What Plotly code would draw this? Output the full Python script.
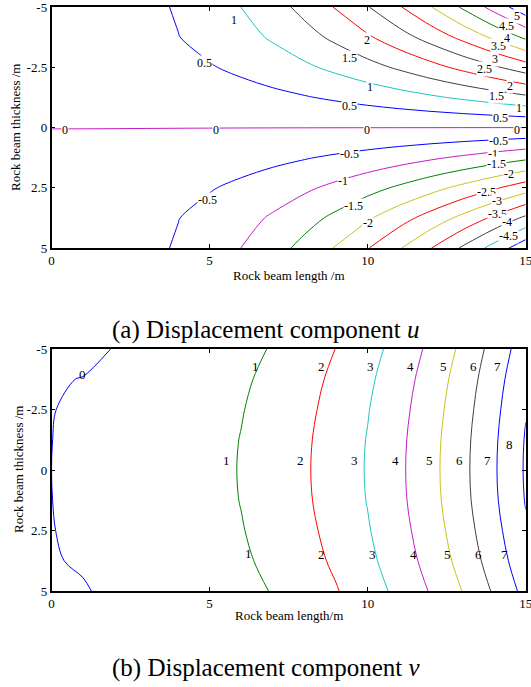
import plotly.graph_objects as go

# ---------------- data ----------------
beam_length = list(range(16))                       # x, m
beam_thick = [-5, -3.75, -2.5, -1.25, 0, 1.25, 2.5, 3.75, 5]   # y, m

# displacement u on the grid (rows follow beam_thick)
u_row_m5 = [0.175, 0.198, 0.267, 0.382, 0.543, 0.750, 1.003, 1.302, 1.647, 2.038, 2.475, 2.958, 3.487, 4.062, 4.683, 5.350]
u_row_m375 = [0.213, 0.230, 0.282, 0.368, 0.489, 0.644, 0.834, 1.058, 1.317, 1.610, 1.938, 2.300, 2.697, 3.128, 3.594, 4.094]
u_row_m25 = [0.181, 0.193, 0.227, 0.285, 0.365, 0.469, 0.595, 0.745, 0.917, 1.113, 1.331, 1.573, 1.837, 2.125, 2.435, 2.769]
u_row_m125 = [0.102, 0.108, 0.125, 0.154, 0.194, 0.246, 0.309, 0.384, 0.470, 0.568, 0.677, 0.798, 0.930, 1.074, 1.229, 1.396]
u_row_0 = [0.005, 0.005, 0.005, 0.005, 0.005, 0.005, 0.005, 0.005, 0.005, 0.005, 0.005, 0.005, 0.005, 0.005, 0.005, 0.005]
u_row_p125 = [-0.102, -0.108, -0.125, -0.154, -0.194, -0.246, -0.309, -0.384, -0.470, -0.568, -0.677, -0.798, -0.930, -1.074, -1.229, -1.396]
u_row_p25 = [-0.181, -0.193, -0.227, -0.285, -0.365, -0.469, -0.595, -0.745, -0.917, -1.113, -1.331, -1.573, -1.837, -2.125, -2.435, -2.769]
u_row_p375 = [-0.213, -0.230, -0.282, -0.368, -0.489, -0.644, -0.834, -1.058, -1.317, -1.610, -1.938, -2.300, -2.697, -3.128, -3.594, -4.094]
u_row_p5 = [-0.175, -0.198, -0.267, -0.382, -0.543, -0.750, -1.003, -1.302, -1.647, -2.038, -2.475, -2.958, -3.487, -4.062, -4.683, -5.350]

# displacement v on the grid
v_row_m5 = [-0.010, -0.020, 0.003, 0.110, 0.260, 0.460, 0.725, 1.065, 1.495, 2.015, 2.635, 3.365, 4.220, 5.210, 6.355, 7.550]
v_row_m375 = [-0.006, 0.002, 0.054, 0.180, 0.352, 0.574, 0.865, 1.225, 1.668, 2.199, 2.825, 3.564, 4.432, 5.438, 6.589, 7.791]
v_row_m25 = [-0.003, 0.017, 0.088, 0.227, 0.413, 0.650, 0.959, 1.331, 1.783, 2.322, 2.953, 3.697, 4.574, 5.590, 6.746, 7.952]
v_row_m125 = [-0.001, 0.027, 0.112, 0.260, 0.456, 0.703, 1.024, 1.406, 1.864, 2.408, 3.042, 3.790, 4.674, 5.696, 6.855, 8.064]
v_row_0 = [0.000, 0.030, 0.120, 0.270, 0.470, 0.720, 1.045, 1.430, 1.890, 2.435, 3.070, 3.820, 4.705, 5.730, 6.890, 8.100]
v_row_p125 = [-0.001, 0.028, 0.114, 0.260, 0.456, 0.702, 1.024, 1.405, 1.861, 2.403, 3.036, 3.783, 4.664, 5.684, 6.840, 8.049]
v_row_p25 = [-0.003, 0.020, 0.093, 0.227, 0.413, 0.647, 0.956, 1.326, 1.770, 2.301, 2.927, 3.666, 4.535, 5.538, 6.682, 7.887]
v_row_p375 = [-0.006, 0.009, 0.064, 0.180, 0.352, 0.568, 0.859, 1.213, 1.640, 2.157, 2.772, 3.499, 4.351, 5.331, 6.457, 7.656]
v_row_p5 = [-0.010, -0.007, 0.020, 0.110, 0.260, 0.450, 0.715, 1.045, 1.445, 1.940, 2.540, 3.250, 4.075, 5.020, 6.120, 7.310]

u_levels = [-5, -4.5, -4, -3.5, -3, -2.5, -2, -1.5, -1, -0.5, 0, 0.5, 1, 1.5, 2, 2.5, 3, 3.5, 4, 4.5, 5]
u_level_colors = ["b", "c", "k", "r", "y", "r", "y", "g", "m", "b", "m",
                  "b", "c", "k", "r", "k", "r", "y", "g", "m", "b"]
v_levels = [0, 1, 2, 3, 4, 5, 6, 7, 8]
v_level_colors = ["b", "g", "r", "c", "m", "y", "k", "b", "b"]

# contour labels: text, x, y
u_lab_text = ["1", "0.5", "2", "1.5", "1", "0.5", "0", "0", "0", "0", "-0.5",
              "0.5", "1", "1.5", "2", "2.5", "3", "3.5", "4", "4.5", "5",
              "-0.5", "-1", "-1.5", "-2",
              "-0.5", "-1", "-1.5", "-2", "-2.5", "-3", "-3.5", "-4", "-4.5"]
u_lab_x = [5.77, 4.85, 9.97, 9.44, 10.07, 9.42, 0.42, 5.2, 9.97, 14.73, 4.93,
           14.19, 14.8, 14.08, 14.5, 13.71, 14.03, 14.13, 14.4, 14.4, 14.71,
           9.42, 9.23, 9.54, 10.02,
           14.13, 13.97, 14.08, 14.48, 13.77, 14.08, 14.1, 14.42, 14.45]
u_lab_y = [-4.48, -2.68, -3.65, -2.89, -1.69, -0.88, 0.11, 0.11, 0.11, 0.11, 2.99,
           -0.4, -0.82, -1.3, -1.74, -2.41, -2.85, -3.37, -3.72, -4.23, -4.62,
           1.12, 2.23, 3.27, 3.98,
           0.57, 1.12, 1.51, 1.92, 2.68, 3.06, 3.61, 3.93, 4.51]

v_lab_text = ["0", "1", "2", "3", "4", "5", "6", "7", "8",
              "1", "2", "3", "4", "5", "6", "7", "0", "0",
              "1", "2", "3", "4", "5", "6", "7"]
v_lab_x = [0.97, 6.45, 8.55, 10.08, 11.34, 12.4, 13.34, 14.1, 14.5,
           5.55, 7.89, 9.57, 10.87, 11.97, 12.92, 13.79, -0.3, -0.1,
           6.23, 8.55, 10.16, 11.45, 12.53, 13.5, 14.32]
v_lab_y = [-3.93, -4.27, -4.27, -4.27, -4.27, -4.27, -4.27, -4.27, -1.05,
           -0.41, -0.41, -0.41, -0.41, -0.41, -0.41, -0.41, -0.2, 2.13,
           3.46, 3.5, 3.5, 3.5, 3.5, 3.5, 3.5]

x_tick_vals = [0, 5, 10, 15]
x_tick_text = ["0", "5", "10", "15"]
y_tick_vals = [-5, -2.5, 0, 2.5, 5]
y_tick_text = ["-5", "-2.5", "0", "2.5", "5"]

# ---------------- styling ----------------
PALETTE = {"b": "#0000ff", "c": "#1cc4c4", "k": "#404040", "r": "#ff0000",
           "y": "#c8c41c", "g": "#008000", "m": "#c41cc4"}
SERIF = "Liberation Serif, Times New Roman, serif"

u_grid = [u_row_m5, u_row_m375, u_row_m25, u_row_m125, u_row_0,
          u_row_p125, u_row_p25, u_row_p375, u_row_p5]
v_grid = [v_row_m5, v_row_m375, v_row_m25, v_row_m125, v_row_0,
          v_row_p125, v_row_p25, v_row_p375, v_row_p5]

fig = go.Figure()


def add_levels(grid, levels, colors, xa, ya):
    for lev, col in zip(levels, colors):
        fig.add_trace(go.Contour(
            x=beam_length, y=beam_thick, z=grid,
            autocontour=False,
            contours=dict(start=lev, end=lev, size=1, coloring="none", showlabels=False),
            line=dict(color=PALETTE[col], width=1, smoothing=1.0),
            showscale=False, hoverinfo="skip", xaxis=xa, yaxis=ya,
        ))


add_levels(u_grid, u_levels, u_level_colors, "x", "y")
add_levels(v_grid, v_levels, v_level_colors, "x2", "y2")

annotations = []
for t, xx, yy in zip(u_lab_text, u_lab_x, u_lab_y):
    annotations.append(dict(text=t, x=xx, y=yy, xref="x", yref="y", showarrow=False,
                            font=dict(family=SERIF, size=12, color="black"),
                            bgcolor="white", borderpad=0))
for t, xx, yy in zip(v_lab_text, v_lab_x, v_lab_y):
    annotations.append(dict(text=t, x=xx, y=yy, xref="x2", yref="y2", showarrow=False,
                            font=dict(family=SERIF, size=13, color="black"), borderpad=0))

annotations += [
    dict(text="(a) Displacement component <i>u</i>", x=0.5, y=(687 - 330) / 687,
         xref="paper", yref="paper", showarrow=False, xanchor="center", yanchor="middle",
         font=dict(family=SERIF, size=25, color="black")),
    dict(text="(b) Displacement component <i>v</i>", x=0.5, y=(687 - 668) / 687,
         xref="paper", yref="paper", showarrow=False, xanchor="center", yanchor="middle",
         font=dict(family=SERIF, size=25, color="black")),
    dict(text="Rock beam length /m", x=289 / 531, y=(687 - 275) / 687,
         xref="paper", yref="paper", showarrow=False, xanchor="center", yanchor="middle",
         font=dict(family=SERIF, size=13, color="black")),
    dict(text="Rock beam length/m", x=289 / 531, y=(687 - 615) / 687,
         xref="paper", yref="paper", showarrow=False, xanchor="center", yanchor="middle",
         font=dict(family=SERIF, size=13, color="black")),
    dict(text="Rock beam thickness /m", x=16 / 531, y=(687 - 128) / 687, textangle=-90,
         xref="paper", yref="paper", showarrow=False, xanchor="center", yanchor="middle",
         font=dict(family=SERIF, size=13, color="black")),
    dict(text="Rock beam thickness /m", x=18 / 531, y=(687 - 470) / 687, textangle=-90,
         xref="paper", yref="paper", showarrow=False, xanchor="center", yanchor="middle",
         font=dict(family=SERIF, size=13, color="black")),
]

axis_common = dict(showline=True, linecolor="black", linewidth=1.5, mirror="allticks",
                   ticks="inside", ticklen=4, tickwidth=1, tickcolor="black",
                   showgrid=False, zeroline=False, automargin=False,
                   ticklabeloverflow="allow",
                   tickfont=dict(family=SERIF, size=13, color="black"))
xdom = [51.5 / 531, 525.7 / 531]

fig.update_layout(
    width=531, height=687, autosize=False,
    margin=dict(l=0, r=0, t=0, b=0, pad=0),
    paper_bgcolor="white", plot_bgcolor="white",
    showlegend=False,
    xaxis=dict(domain=xdom, range=[0, 15], tickvals=x_tick_vals, ticktext=x_tick_text,
               anchor="y", **axis_common),
    yaxis=dict(domain=[(687 - 248) / 687, (687 - 7) / 687], range=[5, -5],
               tickvals=y_tick_vals, ticktext=y_tick_text, anchor="x", **axis_common),
    xaxis2=dict(domain=xdom, range=[0, 15], tickvals=x_tick_vals, ticktext=x_tick_text,
                anchor="y2", **axis_common),
    yaxis2=dict(domain=[(687 - 591) / 687, (687 - 349) / 687], range=[5, -5],
                tickvals=y_tick_vals, ticktext=y_tick_text, anchor="x2", **axis_common),
    annotations=annotations,
)

fig.write_html("out.html", config={"displayModeBar": False},
               post_script="document.body.style.margin='0';document.body.style.overflow='hidden';")
